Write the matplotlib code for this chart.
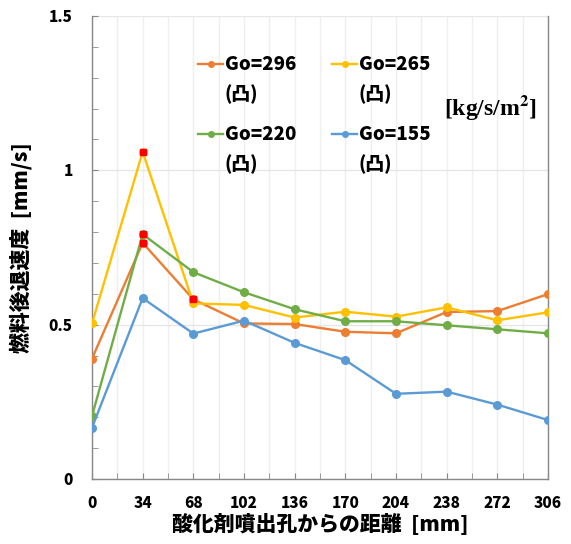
import matplotlib
matplotlib.use("Agg")
import matplotlib.pyplot as plt
from matplotlib.lines import Line2D
from matplotlib.ticker import MultipleLocator

plt.rcParams['font.family'] = ['Noto Sans CJK JP', 'DejaVu Sans']
plt.rcParams['mathtext.fontset'] = 'stix'

distance = [0, 34, 68, 102, 136, 170, 204, 238, 272, 306]
go296 = [0.39, 0.765, 0.582, 0.504, 0.502, 0.477, 0.472, 0.541, 0.544, 0.599]
go265 = [0.504, 1.060, 0.569, 0.564, 0.523, 0.542, 0.526, 0.556, 0.514, 0.540]
go220 = [0.204, 0.793, 0.670, 0.605, 0.550, 0.511, 0.511, 0.498, 0.485, 0.472]
go155 = [0.166, 0.586, 0.471, 0.513, 0.441, 0.385, 0.276, 0.283, 0.241, 0.191]
labels = ["Go=296", "Go=265", "Go=220", "Go=155"]
sublabel = "(凸)"
colors = ["#ED7D31", "#FFC000", "#70AD47", "#5B9BD5"]
# highlighted points (red squares)
hl_x = [34, 34, 34, 68]
hl_y = [1.060, 0.793, 0.765, 0.582]

W, H = 571, 544
fig = plt.figure(figsize=(W / 100, H / 100), dpi=100)
ax = fig.add_axes([92 / W, 1 - 479 / H, 456 / W, 463 / H])

for ys, lab, c in zip([go296, go265, go220, go155], labels, colors):
    ax.plot(distance, ys, color=c, lw=1.7, marker='o', ms=5.5, label=lab, zorder=3)
ax.plot(hl_x, hl_y, ls='none', marker='s', ms=4.8, color='#FF0000', zorder=4)

ax.set_xlim(0, 306)
ax.set_ylim(0, 1.5)
ax.set_xticks(distance)
ax.xaxis.set_minor_locator(MultipleLocator(17))
ax.yaxis.set_minor_locator(MultipleLocator(0.1))
ax.set_yticks([0, 0.5, 1.0, 1.5])
ax.set_yticklabels(['0', '0.5', '1', '1.5'])

ax.grid(True, which='major', axis='y', color='#E6E6E6', lw=1)
ax.grid(True, which='both', axis='x', color='#EFEFEF', lw=1)
ax.set_axisbelow(True)

ax.spines['top'].set_visible(False)
for s in ['left', 'bottom', 'right']:
    ax.spines[s].set_color('#888888')
    ax.spines[s].set_linewidth(1)

ax.tick_params(axis='both', which='both', direction='in', color='#888888', length=4,
               labelsize=11, right=False, top=False)
ax.tick_params(axis='y', which='major', pad=14)
ax.tick_params(axis='x', which='major', pad=12)
for t in ax.get_xticklabels() + ax.get_yticklabels():
    t.set_fontweight('heavy')

ax.set_xlabel('酸化剤噴出孔からの距離  [mm]', fontsize=15, fontweight='heavy', labelpad=2)
ax.set_ylabel('燃料後退速度  [mm/s]', fontsize=15, fontweight='heavy', labelpad=12)

# manual legend (2x2 grid, two-line labels)
def fx(px):
    return px / W

def fy(py):
    return 1 - py / H

col_x = [198, 332]
row_y = [64, 134]
sub_dy = 30
for i, (lab, c) in enumerate(zip(labels, colors)):
    x0 = col_x[i % 2]
    y0 = row_y[i // 2]
    fig.add_artist(Line2D([fx(x0), fx(x0 + 25)], [fy(y0), fy(y0)], color=c, lw=1.7,
                          transform=fig.transFigure))
    fig.add_artist(Line2D([fx(x0 + 12.5)], [fy(y0)], color=c, marker='o', ms=4,
                          transform=fig.transFigure))
    fig.text(fx(x0 + 27), fy(y0), lab, ha='left', va='center', fontsize=13.5, fontweight='heavy')
    fig.text(fx(x0 + 27), fy(y0 + sub_dy), sublabel, ha='left', va='center', fontsize=13.5,
             fontweight='heavy')

fig.text(fx(537), fy(107), '[kg/s/m$^{\\mathbf{2}}$]', ha='right', va='center',
         family='Liberation Serif', fontweight='bold', fontsize=17)

fig.savefig('out.png', dpi=100)
